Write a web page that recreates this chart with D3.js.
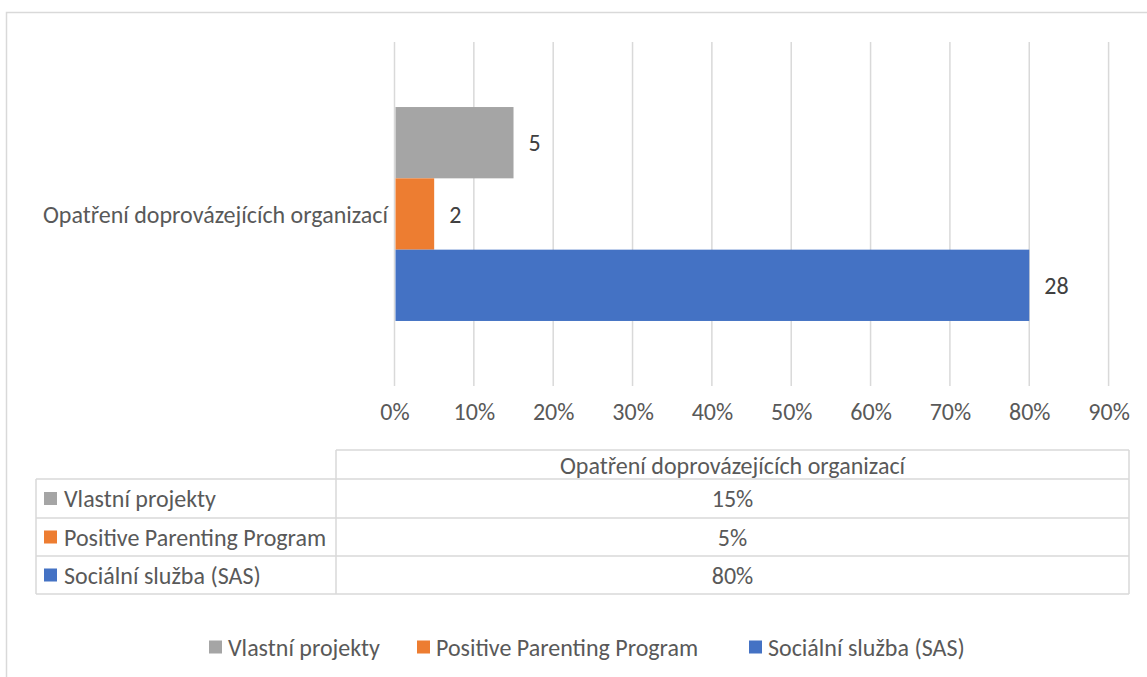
<!DOCTYPE html>
<html>
<head>
<meta charset="utf-8">
<script src="https://cdn.jsdelivr.net/npm/d3@7"></script>
<style>
  body { margin: 0; background: #fff; }
  svg text { font-family: Carlito, Calibri, "Open Sans", sans-serif; }
</style>
</head>
<body>
<div id="chart"></div>
<script>
// data
const category = 'Opatření doprovázejících organizací';
const seriesNames = ['Vlastní projekty', 'Positive Parenting Program', 'Sociální služba (SAS)'];
const seriesShares = [0.15, 0.05, 0.80];
const seriesCounts = [5, 2, 28];
const seriesColors = ['#a5a5a5', '#ed7d31', '#4472c4'];
const tickValues = [0, 0.1, 0.2, 0.3, 0.4, 0.5, 0.6, 0.7, 0.8, 0.9];

const width = 1147, height = 677;
const gridColor = '#d9d9d9';
const textColor = '#595959';
const fontSize = 24;

const svg = d3.select('#chart').append('svg')
	.attr('width', width)
	.attr('height', height);

// outer chart border (cut off at right and bottom like the reference)
svg.append('path')
	.attr('d', 'M6.5,700 V12.5 H1160')
	.attr('fill', 'none')
	.attr('stroke', gridColor)
	.attr('stroke-width', 1.5);

const plot = { left: 394.5, right: 1108.6, top: 42, bottom: 386 };

const x = d3.scaleLinear().domain([0, 0.9]).range([plot.left, plot.right]);
const yCat = d3.scaleBand().domain([category]).range([plot.top, plot.bottom]).paddingInner(0).paddingOuter(0.304);
const ySer = d3.scaleBand().domain(seriesNames).range([yCat(category), yCat(category) + yCat.bandwidth()]);

// gridlines
svg.append('g')
	.selectAll('line')
	.data(tickValues)
	.join('line')
	.attr('x1', d => x(d)).attr('x2', d => x(d))
	.attr('y1', plot.top).attr('y2', plot.bottom)
	.attr('stroke', gridColor)
	.attr('stroke-width', 1.5);

// bars
const bars = seriesNames.map((name, i) => ({ name, share: seriesShares[i], count: seriesCounts[i], color: seriesColors[i] }));
svg.append('g')
	.selectAll('rect')
	.data(bars)
	.join('rect')
	.attr('x', x(0) + 1)
	.attr('y', d => ySer(d.name))
	.attr('width', d => x(d.share) - x(0) - 1)
	.attr('height', ySer.bandwidth())
	.attr('fill', d => d.color);

// data labels (counts)
svg.append('g')
	.selectAll('text')
	.data(bars)
	.join('text')
	.attr('x', d => x(d.share) + 15)
	.attr('y', d => ySer(d.name) + ySer.bandwidth() / 2)
	.attr('dominant-baseline', 'central')
	.attr('font-size', fontSize)
	.attr('fill', '#404040')
	.text(d => d.count);

// category label
svg.append('text')
	.attr('x', 388)
	.attr('y', yCat(category) + yCat.bandwidth() / 2)
	.attr('text-anchor', 'end')
	.attr('dominant-baseline', 'central')
	.attr('font-size', fontSize)
	.attr('fill', textColor)
	.text(category);

// x axis tick labels
const xAxis = d3.axisBottom(x).tickValues(tickValues).tickFormat(d3.format('.0%')).tickSize(0).tickPadding(0);
const axisG = svg.append('g').attr('transform', `translate(0,${plot.bottom + 17})`).call(xAxis);
axisG.select('.domain').remove();
axisG.selectAll('text')
	.attr('font-size', fontSize)
	.attr('fill', textColor)
	.attr('font-family', null);

// data table
const table = { left: 36, split: 336, right: 1129, top: 450, header: 479, rows: [479, 518, 556, 594] };
const tg = svg.append('g').attr('stroke', gridColor).attr('stroke-width', 1.5);
tg.append('line').attr('x1', table.split).attr('x2', table.right).attr('y1', table.top).attr('y2', table.top);
tg.append('line').attr('x1', table.split).attr('x2', table.split).attr('y1', table.top).attr('y2', table.rows[3]);
tg.append('line').attr('x1', table.right).attr('x2', table.right).attr('y1', table.top).attr('y2', table.rows[3]);
tg.append('line').attr('x1', table.left).attr('x2', table.left).attr('y1', table.rows[0]).attr('y2', table.rows[3]);
tg.selectAll('line.row')
	.data(table.rows)
	.join('line')
	.attr('class', 'row')
	.attr('x1', table.left).attr('x2', table.right)
	.attr('y1', d => d).attr('y2', d => d);

const midX = (table.split + table.right) / 2;
svg.append('text')
	.attr('x', midX)
	.attr('y', (table.top + table.header) / 2 + 1)
	.attr('text-anchor', 'middle')
	.attr('dominant-baseline', 'central')
	.attr('font-size', fontSize)
	.attr('fill', textColor)
	.text(category);

const fmtPct = d3.format('.0%');
const rowG = svg.append('g')
	.selectAll('g')
	.data(bars)
	.join('g')
	.attr('transform', (d, i) => `translate(0,${(table.rows[i] + table.rows[i + 1]) / 2})`);
rowG.append('rect')
	.attr('x', 44).attr('y', -6.5)
	.attr('width', 13).attr('height', 13)
	.attr('fill', d => d.color);
rowG.append('text')
	.attr('x', 64)
	.attr('dominant-baseline', 'central')
	.attr('font-size', fontSize)
	.attr('fill', textColor)
	.text(d => d.name);
rowG.append('text')
	.attr('x', midX)
	.attr('text-anchor', 'middle')
	.attr('dominant-baseline', 'central')
	.attr('font-size', fontSize)
	.attr('fill', textColor)
	.text(d => fmtPct(d.share));

// bottom legend
const legendX = [209, 417, 749];
const legG = svg.append('g')
	.selectAll('g')
	.data(bars)
	.join('g')
	.attr('transform', (d, i) => `translate(${legendX[i]},647)`);
legG.append('rect')
	.attr('x', 0).attr('y', -6.5)
	.attr('width', 13).attr('height', 13)
	.attr('fill', d => d.color);
legG.append('text')
	.attr('x', 19)
	.attr('dominant-baseline', 'central')
	.attr('font-size', fontSize)
	.attr('fill', textColor)
	.text(d => d.name);
</script>
</body>
</html>
